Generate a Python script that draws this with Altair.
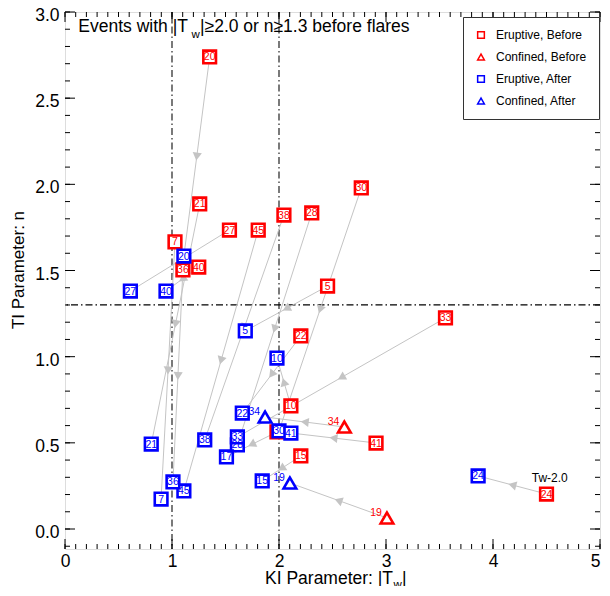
import math
import altair as alt
import pandas as pd

FONT = "Liberation Sans"

# ---- data ----
events = ["20", "21", "7", "27", "45", "38", "28", "30", "40", "36",
          "5", "22", "33", "10", "41", "15", "24", "17", "34", "19"]
kinds = ["Eruptive"] * 18 + ["Confined", "Confined"]
before_x = [1.352, 1.259, 1.028, 1.537, 1.806, 2.046, 2.306, 2.769, 1.250, 1.102,
            2.454, 2.204, 3.556, 2.111, 2.907, 2.204, 4.500, 1.981, 2.611, 3.009]
before_y = [2.739, 1.886, 1.666, 1.735, 1.735, 1.822, 1.834, 1.979, 1.520, 1.503,
            1.410, 1.120, 1.225, 0.714, 0.499, 0.424, 0.203, 0.563, 0.592, 0.064]
after_x = [1.111, 0.806, 0.898, 0.611, 1.111, 1.306, 1.611, 2.000, 0.944, 1.009,
           1.685, 1.657, 1.611, 1.981, 2.111, 1.843, 3.861, 1.509, 1.870, 2.102]
after_y = [1.584, 0.493, 0.174, 1.381, 0.221, 0.517, 0.488, 0.569, 1.381, 0.273,
           1.149, 0.673, 0.534, 0.992, 0.557, 0.279, 0.308, 0.418, 0.650, 0.267]

x_tick_labels = [0, 1, 2, 3, 4, 5]
y_tick_labels = [0.0, 0.5, 1.0, 1.5, 2.0, 2.5, 3.0]
x_minor = [i / 10 for i in range(0, 51)]
y_minor = [i / 10 for i in range(-1, 31)]
thresholds_x = [1.0, 2.0]
threshold_y = 1.3

groups = ["Eruptive, Before", "Confined, Before", "Eruptive, After", "Confined, After"]
group_colors = ["#ff0000", "#ff0000", "#0000ff", "#0000ff"]
group_shapes = ["square", "triangle-up", "square", "triangle-up"]

# ---- geometry ----
W, H = 535, 537
XDOM = [0, 5]
YDOM = [-0.116, 3.0]
SX = W / (XDOM[1] - XDOM[0])
SY = H / (YDOM[1] - YDOM[0])

xs = alt.Scale(domain=XDOM, nice=False, zero=False)
ys = alt.Scale(domain=YDOM, nice=False, zero=False)
xaxis = alt.Axis(values=x_tick_labels, format="d", labelFontSize=17.5, labelFont=FONT,
                 labelColor="black", ticks=False, tickSize=0, domain=False, grid=False,
                 labelPadding=3, title=None, labelFlush=False,
                 labelAlign={"expr": "datum.value == 5 ? 'right' : 'center'"})
yaxis = alt.Axis(values=y_tick_labels, format=".1f", labelFontSize=17.5, labelFont=FONT,
                 labelColor="black", ticks=False, tickSize=0, domain=False, grid=False,
                 labelPadding=6, labelOffset=3.5, title=None, labelFlush=False)


def X(f, t="Q"):
    return alt.X(f"{f}:{t}", scale=xs, axis=xaxis)


def Y(f, t="Q"):
    return alt.Y(f"{f}:{t}", scale=ys, axis=yaxis)


# ---- tables ----
rows = []
for phase, xx, yy in (("Before", before_x, before_y), ("After", after_x, after_y)):
    for e, k, a, b in zip(events, kinds, xx, yy):
        rows.append({"event": e, "kind": k, "phase": phase, "x": a, "y": b,
                     "group": f"{k}, {phase}"})
pts = pd.DataFrame(rows)

seg = pd.DataFrame({"event": events, "x0": before_x, "y0": before_y,
                    "x1": after_x, "y1": after_y})
seg["mx"] = (seg.x0 + seg.x1) / 2
seg["my"] = (seg.y0 + seg.y1) / 2
seg["ang"] = [
    (math.degrees(math.atan2((b - a) * SX, (d - c) * SY)) + 360) % 360
    for a, b, c, d in zip(seg.x0, seg.x1, seg.y0, seg.y1)
]

cscale = alt.Scale(domain=groups, range=group_colors)
sscale = alt.Scale(domain=groups, range=group_shapes)
legend = alt.Legend(orient="none", legendX=398, legendY=5, title=None,
                    labelFont=FONT, labelFontSize=12, labelColor="black",
                    symbolSize=45, symbolStrokeWidth=1.5, symbolFillColor="white",
                    rowPadding=9, labelOffset=9, padding=12,
                    strokeColor="#333", fillColor="white")

base = alt.Chart(pts)

# threshold lines
vlines = alt.Chart(pd.DataFrame({"v": thresholds_x})).mark_rule(
    color="#333", strokeWidth=1.3, strokeDash=[7, 3, 1.5, 3]
).encode(x=X("v"))
hline = alt.Chart(pd.DataFrame({"v": [threshold_y]})).mark_rule(
    color="black", strokeWidth=1.3, strokeDash=[7, 3, 1.5, 3]
).encode(y=Y("v"))

segs = alt.Chart(seg).mark_rule(color="#c4c4c4", strokeWidth=1).encode(
    x=X("x0"), y=Y("y0"), x2="x1", y2="y1")
heads = alt.Chart(seg).mark_point(shape="triangle-up", filled=True, color="#c4c4c4",
                                  size=85, opacity=1).encode(
    x=X("mx"), y=Y("my"), angle=alt.Angle("ang:Q", scale=None))


def point_layer(phase):
    return base.transform_filter(alt.datum.phase == phase).mark_point(
        filled=False, fill="white", fillOpacity=1, strokeWidth=2.6, size=160, opacity=1
    ).encode(
        x=X("x"), y=Y("y"),
        stroke=alt.Stroke("group:N", scale=cscale, legend=legend),
        shape=alt.Shape("group:N", scale=sscale, legend=legend),
    )


def sq_labels(phase, col):
    return base.transform_filter(
        (alt.datum.phase == phase) & (alt.datum.kind == "Eruptive")
    ).mark_text(font=FONT, fontSize=10.5, color=col, align="center",
                baseline="middle", dy=0.5).encode(x=X("x"), y=Y("y"), text="event:N")


def tri_labels(phase, col):
    return base.transform_filter(
        (alt.datum.phase == phase) & (alt.datum.kind == "Confined")
    ).mark_text(font=FONT, fontSize=10.5, color=col, align="right",
                baseline="middle", dx=-5, dy=-4.5).encode(x=X("x"), y=Y("y"), text="event:N")


ann = alt.Chart(pd.DataFrame({"x": [4.53], "y": [0.296], "t": ["Tw-2.0"]})).mark_text(
    font=FONT, fontSize=12, color="black", align="center", baseline="middle"
).encode(x=X("x"), y=Y("y"), text="t:N")

# inward ticks on all four sides
xmaj = alt.Chart(pd.DataFrame({"v": x_tick_labels}))
xmin = alt.Chart(pd.DataFrame({"v": x_minor}))
ymaj = alt.Chart(pd.DataFrame({"v": y_tick_labels}))
ymin = alt.Chart(pd.DataFrame({"v": y_minor}))
tk = dict(color="black", strokeWidth=1)
ticks = [
    xmaj.mark_rule(**tk).encode(x=X("v"), y=alt.value(H), y2=alt.value(H - 10)),
    xmaj.mark_rule(**tk).encode(x=X("v"), y=alt.value(0), y2=alt.value(10)),
    xmin.mark_rule(**tk).encode(x=X("v"), y=alt.value(H), y2=alt.value(H - 5)),
    xmin.mark_rule(**tk).encode(x=X("v"), y=alt.value(0), y2=alt.value(5)),
    ymaj.mark_rule(**tk).encode(y=Y("v"), x=alt.value(0), x2=alt.value(10)),
    ymaj.mark_rule(**tk).encode(y=Y("v"), x=alt.value(W), x2=alt.value(W - 10)),
    ymin.mark_rule(**tk).encode(y=Y("v"), x=alt.value(0), x2=alt.value(5)),
    ymin.mark_rule(**tk).encode(y=Y("v"), x=alt.value(W), x2=alt.value(W - 5)),
]

# titles (with subscript w)
one = pd.DataFrame({"a": [0]})


def txt(s, x, y, size, **kw):
    return alt.Chart(one).mark_text(text=s, font=FONT, fontSize=size, color="black",
                                    align=kw.pop("align", "left"),
                                    baseline=kw.pop("baseline", "alphabetic"), **kw
                                    ).encode(x=alt.value(x), y=alt.value(y))


titles = [
    txt("Events with |T", 13.3, 20, 17.5),
    txt("w", 126.5, 26, 11.5),
    txt("|\u22652.0 or n\u22651.3 before flares", 135, 20, 17.5),
    txt("KI Parameter: |T", 200, 572, 17.5),
    txt("w", 328.6, 576, 11.5),
    txt("|", 337, 572, 17.5),
    txt("TI Parameter: n", -46, 258, 17, align="center", baseline="middle", angle=270),
]

chart = alt.layer(
    vlines, hline, segs, heads,
    point_layer("Before"), sq_labels("Before", "#ff0000"), tri_labels("Before", "#ff0000"),
    point_layer("After"), sq_labels("After", "#0000ff"), tri_labels("After", "#0000ff"),
    ann, *ticks, *titles,
).properties(
    width=W, height=H,
    autosize=alt.AutoSizeParams(type="none"),
    padding={"left": 57, "top": 4, "right": 2, "bottom": 37},
).configure_view(stroke="black", strokeWidth=1.2).configure(background="white")

chart.save("out.html", embed_options={"renderer": "svg", "actions": False})
